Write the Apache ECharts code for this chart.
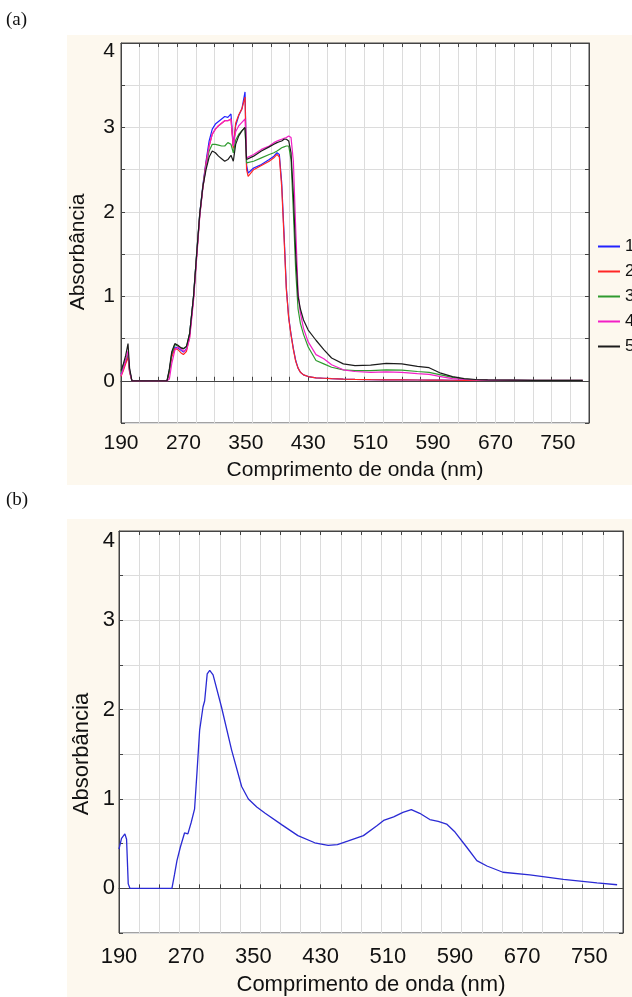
<!DOCTYPE html>
<html lang="pt">
<head>
    <meta charset="UTF-8">
    <title>Absorbância UV-Vis</title>
    <style>
        html, body {
            margin: 0;
            padding: 0;
            background: #fff;
        }
        #chart {
            width: 632px;
            height: 997px;
        }
    </style>
</head>
<body>

<div id="chart"></div>

<script src="https://cdn.jsdelivr.net/npm/echarts@6/dist/echarts.min.js"></script>
<script type="text/javascript">

    // (a) comprimentos de onda comuns às 5 amostras (nm)
    let wlA = [190, 193, 196, 199, 201, 204, 249, 252, 255, 259, 263, 267, 270, 274, 278, 283, 287, 291, 295, 299,
        303, 307, 311, 315, 319, 323, 327, 331, 334, 337, 341, 345, 349, 351, 353, 360, 370, 380, 386, 390,
        393, 396, 399, 402, 405, 408, 411, 414, 417, 420, 424, 430, 440, 450, 460, 475, 490, 510, 530, 550,
        570, 585, 600, 615, 630, 645, 660, 690, 720, 750, 782];

    let amostra1 = [0.08, 0.15, 0.22, 0.30, 0.12, 0, 0, 0.12, 0.30, 0.40, 0.39, 0.36, 0.34, 0.38, 0.55, 1.00, 1.50, 1.98, 2.32, 2.60,
        2.84, 2.98, 3.04, 3.07, 3.10, 3.13, 3.12, 3.16, 2.78, 3.02, 3.14, 3.22, 3.42, 2.55, 2.46, 2.52, 2.56, 2.62, 2.66, 2.70,
        2.68, 2.35, 1.75, 1.10, 0.75, 0.55, 0.38, 0.24, 0.15, 0.10, 0.07, 0.05, 0.035, 0.03, 0.025, 0.02, 0.016, 0.013, 0.011, 0.01,
        0.009, 0.008, 0.007, 0.006, 0.005, 0.005, 0.004, 0.004, 0.003, 0.003, 0.003];

    let amostra2 = [0.05, 0.12, 0.20, 0.28, 0.10, 0, 0, 0.10, 0.28, 0.38, 0.37, 0.33, 0.31, 0.35, 0.52, 0.98, 1.48, 1.96, 2.30, 2.58,
        2.78, 2.92, 2.98, 3.02, 3.05, 3.08, 3.08, 3.10, 2.75, 3.05, 3.15, 3.22, 3.36, 2.50, 2.42, 2.50, 2.55, 2.60, 2.64, 2.68,
        2.65, 2.30, 1.70, 1.08, 0.74, 0.54, 0.37, 0.23, 0.15, 0.10, 0.07, 0.05, 0.035, 0.03, 0.025, 0.02, 0.016, 0.013, 0.011, 0.01,
        0.009, 0.008, 0.007, 0.006, 0.005, 0.005, 0.004, 0.004, 0.003, 0.003, 0.003];

    let amostra3 = [0.10, 0.18, 0.25, 0.32, 0.12, 0, 0, 0.12, 0.32, 0.43, 0.41, 0.39, 0.38, 0.40, 0.56, 1.00, 1.50, 1.98, 2.30, 2.55,
        2.72, 2.80, 2.80, 2.79, 2.78, 2.78, 2.82, 2.80, 2.70, 2.85, 2.92, 2.96, 3.00, 2.58, 2.56, 2.60, 2.64, 2.68, 2.70, 2.72,
        2.74, 2.76, 2.77, 2.78, 2.78, 2.62, 2.00, 1.30, 0.85, 0.68, 0.55, 0.40, 0.24, 0.20, 0.16, 0.13, 0.12, 0.12, 0.13, 0.125,
        0.11, 0.10, 0.07, 0.04, 0.02, 0.012, 0.008, 0.006, 0.005, 0.005, 0.005];

    let amostra4 = [0.06, 0.14, 0.25, 0.35, 0.12, 0, 0, 0.02, 0.20, 0.36, 0.40, 0.38, 0.35, 0.37, 0.50, 0.95, 1.45, 1.95, 2.28, 2.55,
        2.78, 2.92, 2.98, 3.02, 3.05, 3.08, 3.08, 3.10, 2.78, 2.95, 3.02, 3.06, 3.10, 2.64, 2.62, 2.68, 2.74, 2.78, 2.82, 2.84,
        2.85, 2.86, 2.87, 2.88, 2.90, 2.88, 2.60, 1.80, 1.05, 0.80, 0.62, 0.46, 0.31, 0.26, 0.19, 0.13, 0.11, 0.10, 0.105, 0.10,
        0.085, 0.075, 0.05, 0.025, 0.015, 0.01, 0.008, 0.006, 0.005, 0.005, 0.005];

    let amostra5 = [0.12, 0.20, 0.30, 0.44, 0.15, 0, 0, 0.14, 0.34, 0.44, 0.42, 0.39, 0.38, 0.41, 0.56, 1.00, 1.50, 1.98, 2.30, 2.50,
        2.65, 2.72, 2.70, 2.66, 2.63, 2.60, 2.62, 2.67, 2.60, 2.80, 2.90, 2.96, 3.00, 2.62, 2.60, 2.66, 2.72, 2.77, 2.80, 2.82,
        2.83, 2.84, 2.86, 2.86, 2.84, 2.70, 2.20, 1.50, 1.00, 0.85, 0.72, 0.60, 0.48, 0.37, 0.27, 0.20, 0.18, 0.185, 0.205, 0.20,
        0.17, 0.155, 0.09, 0.05, 0.025, 0.015, 0.01, 0.007, 0.005, 0.004, 0.004];

    // (b) espectro único
    let wlB = [190, 193, 197, 199, 201, 203, 253, 256, 259, 263, 268, 272, 276, 280, 283, 286, 290, 292, 295, 298,
        302, 312, 324, 336, 344, 354, 364, 384, 403, 423, 439, 450, 463, 481, 497, 505, 517, 528, 538, 548,
        560, 570, 580, 590, 604, 616, 628, 647, 679, 719, 759, 783];
    let absB = [0.44, 0.56, 0.61, 0.55, 0.05, 0, 0, 0.15, 0.31, 0.46, 0.62, 0.61, 0.74, 0.89, 1.32, 1.77, 2.03, 2.10, 2.40, 2.44,
        2.39, 2.03, 1.55, 1.14, 1.00, 0.91, 0.84, 0.71, 0.59, 0.51, 0.48, 0.49, 0.53, 0.59, 0.70, 0.76, 0.80, 0.85, 0.88, 0.84,
        0.77, 0.75, 0.72, 0.63, 0.46, 0.31, 0.25, 0.18, 0.15, 0.10, 0.06, 0.04];

    let xLabels = [190, 270, 350, 430, 510, 590, 670, 750];
    let yLabels = [0, 1, 2, 3, 4];
    let nomes = ['1', '2', '3', '4', '5'];
    let cores = ['#2222ff', '#ff2626', '#2f9a2f', '#f21fc6', '#1c1c1c'];

    const FONT = '"Liberation Sans", Arial, sans-serif';
    const SERIF = '"Liberation Serif", "Times New Roman", serif';

    //eixos de um painel: rótulos a cada 80 nm, grade a cada 24 nm
    function eixosX(g, fs, margem, gapNome) {
        return [
            {
                gridIndex: g, type: 'value', min: 190, max: 790, interval: 80, position: 'bottom',
                name: 'Comprimento de onda (nm)', nameLocation: 'middle', nameGap: gapNome,
                nameTextStyle: {fontSize: fs, color: '#111', fontFamily: FONT},
                axisLine: {show: false}, axisTick: {show: false}, splitLine: {show: false},
                axisLabel: {
                    fontSize: fs, color: '#111', fontFamily: FONT, margin: margem,
                    formatter: function (v) { return xLabels.indexOf(v) >= 0 ? String(v) : ''; }
                }
            },
            {
                gridIndex: g, type: 'value', min: 190, max: 790, interval: 24, position: 'bottom',
                axisLine: {show: true, lineStyle: {color: '#444'}},
                axisTick: {show: true, inside: true, length: 4, lineStyle: {color: '#444'}},
                axisLabel: {show: false},
                splitLine: {show: true, lineStyle: {color: '#dcdcdc'}}
            },
            {
                gridIndex: g, type: 'value', min: 190, max: 790, interval: 24, position: 'top',
                axisLine: {show: true, lineStyle: {color: '#444'}},
                axisTick: {show: true, inside: true, length: 4, lineStyle: {color: '#444'}},
                axisLabel: {show: false}, splitLine: {show: false}
            }
        ];
    }

    function eixosY(g, fs, margem, desloc) {
        return [
            {
                gridIndex: g, type: 'value', min: -0.5, max: 4, interval: 0.5, position: 'left',
                axisLine: {show: true, lineStyle: {color: '#444'}},
                axisTick: {show: true, inside: true, length: 4, lineStyle: {color: '#444'}},
                splitLine: {show: true, lineStyle: {color: '#dcdcdc'}},
                axisLabel: {
                    fontSize: fs, color: '#111', fontFamily: FONT, margin: margem,
                    formatter: function (v) {
                        if (yLabels.indexOf(v) < 0) return '';
                        return v === 4 ? '{topo|4}' : String(v);
                    },
                    rich: {topo: {fontSize: fs, color: '#111', fontFamily: FONT, padding: [desloc * 2, 0, 0, 0]}}
                }
            },
            {
                gridIndex: g, type: 'value', min: -0.5, max: 4, interval: 0.5, position: 'right',
                axisLine: {show: true, lineStyle: {color: '#444'}},
                axisTick: {show: true, inside: true, length: 4, lineStyle: {color: '#444'}},
                axisLabel: {show: false}, splitLine: {show: false}
            }
        ];
    }

    function pares(xs, ys) {
        let out = [];
        for (let i = 0; i < xs.length; i++) {
            out.push([xs[i], ys[i]]);
        }
        return out;
    }

    let amostras = [amostra1, amostra2, amostra3, amostra4, amostra5];
    let series = [];
    for (let i = 0; i < amostras.length; i++) {
        series.push({
            name: nomes[i], type: 'line', xAxisIndex: 0, yAxisIndex: 0,
            data: pares(wlA, amostras[i]),
            symbol: 'none', color: cores[i],
            lineStyle: {width: 1.2, color: cores[i]}
        });
    }
    series.push({
        name: 'b', type: 'line', xAxisIndex: 3, yAxisIndex: 2,
        data: pares(wlB, absB),
        symbol: 'none', color: '#2a2ad4',
        lineStyle: {width: 1.3, color: '#2a2ad4'}
    });

    let myChart = echarts.init(document.getElementById('chart'));
    let option = {
        animation: false,
        backgroundColor: '#fff',
        grid: [
            {left: 121, top: 43, width: 468, height: 380, show: true, backgroundColor: '#fff', borderColor: '#444'},
            {left: 119, top: 531, width: 504, height: 402, show: true, backgroundColor: '#fff', borderColor: '#444'}
        ],
        xAxis: eixosX(0, 21, 10, 37).concat(eixosX(1, 22, 13, 41)),
        yAxis: eixosY(0, 21, 6, 8).concat(eixosY(1, 22, 4, 10)),
        legend: {
            data: nomes, orient: 'vertical', left: 593, top: 233,
            icon: 'rect', itemWidth: 22, itemHeight: 2, itemGap: 8,
            textStyle: {fontSize: 17, color: '#111', fontFamily: FONT}
        },
        graphic: [
            {type: 'rect', z: -10, shape: {x: 67, y: 35, width: 565, height: 450}, style: {fill: '#fdf8ee'}},
            {type: 'rect', z: -10, shape: {x: 67, y: 519, width: 565, height: 478}, style: {fill: '#fdf8ee'}},
            {type: 'text', left: 6, top: 11, style: {text: '(a)', fontSize: 19, fontFamily: SERIF, fill: '#111'}},
            {type: 'text', left: 6, top: 491, style: {text: '(b)', fontSize: 19, fontFamily: SERIF, fill: '#111'}},
            {
                type: 'text', x: 78, y: 252, rotation: Math.PI / 2,
                style: {text: 'Absorbância', fontSize: 21, fontFamily: FONT, fill: '#111', align: 'center', verticalAlign: 'middle'}
            },
            {
                type: 'text', x: 82, y: 754, rotation: Math.PI / 2,
                style: {text: 'Absorbância', fontSize: 22, fontFamily: FONT, fill: '#111', align: 'center', verticalAlign: 'middle'}
            }
        ],
        series: series
    };
    myChart.setOption(option);

</script>
</body>
</html>
